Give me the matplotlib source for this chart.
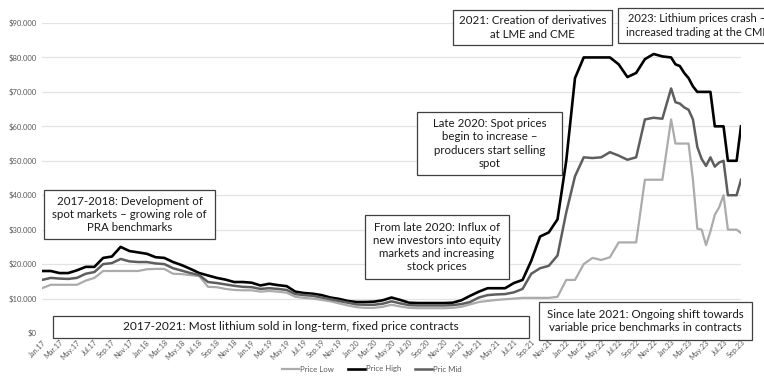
import matplotlib.pyplot as plt
import matplotlib.patches as patches
import numpy as np

plt.rcParams['font.family'] = ['Lato', 'DejaVu Sans']

# month offsets from Jan 2017 (monthly, then half-monthly during 2023)
month_pos = np.concatenate([np.arange(0, 72), np.arange(72, 80.5, 0.5)])

price_high = [
    18, 18, 17.4, 17.4, 18.2, 19.2, 19.2, 21.8, 22.2, 25, 23.8, 23.4,
    23, 22, 21.8, 20.6, 19.7, 18.6, 17.4, 16.7, 16, 15.5, 14.8, 14.8,
    14.6, 13.8, 14.3, 13.9, 13.6, 12, 11.6, 11.4, 11, 10.3, 9.9, 9.3,
    9, 9, 9.1, 9.5, 10.3, 9.6, 8.8, 8.7, 8.7, 8.7, 8.7, 8.8,
    9.5, 10.8, 12, 13, 13, 13, 14.5, 15.4, 21, 28, 29.2, 33,
    50, 74, 80, 80, 80, 80, 78, 74.3, 75.5, 79.5, 81, 80.3,
    80, 78, 77.5, 75.5, 74, 71.6, 70, 70, 70, 70, 60, 60, 60, 50, 50, 50, 60,
]
price_mid = [
    15.4, 16, 15.8, 15.7, 16, 17.2, 17.7, 20, 20.3, 21.5, 20.8, 20.6,
    20.6, 20.2, 20, 18.8, 18.1, 17.4, 16.8, 14.8, 14.5, 14.1, 13.7, 13.4,
    13.3, 12.8, 13, 12.8, 12.5, 11.3, 11, 10.8, 10.3, 9.8, 9.3, 8.8,
    8.3, 8.2, 8.2, 8.5, 9.2, 8.6, 8.1, 8, 8, 8, 8, 8.1,
    8.4, 9, 10.3, 11, 11.2, 11.3, 11.8, 12.8, 17.2, 18.8, 19.5, 22.5,
    35, 45.5, 51, 50.8, 51, 52.5, 51.5, 50.3, 51, 62, 62.5, 62.2,
    71, 67, 66.6, 65.5, 64.8, 62, 54, 50.5, 48.5, 51, 48.3, 49.5, 50, 40, 40, 40, 44.5,
]
price_low = [
    13, 14, 14, 14, 14, 15.2, 16, 18, 18, 18, 18, 18,
    18.5, 18.6, 18.6, 17.2, 17.1, 16.8, 16.5, 13.4, 13.3, 12.8, 12.5, 12.4,
    12.4, 12, 12.2, 12, 11.7, 10.5, 10.2, 10, 9.6, 9.2, 8.6, 8,
    7.5, 7.3, 7.3, 7.6, 8.2, 7.7, 7.3, 7.2, 7.2, 7.2, 7.2, 7.3,
    7.6, 8.3, 9, 9.3, 9.6, 9.8, 10, 10.2, 10.2, 10.2, 10.2, 10.5,
    15.4, 15.4, 20, 21.8, 21.2, 22, 26.3, 26.3, 26.3, 44.5, 44.5, 44.5,
    62, 55, 55, 55, 55, 44.5, 30.3, 30, 25.5, 29.5, 34.3, 36.5, 40, 30, 30, 30, 29,
]

tick_labels = [
    'Jan.17', 'Mar.17', 'May.17', 'Jul.17', 'Sep.17', 'Nov.17',
    'Jan.18', 'Mar.18', 'May.18', 'Jul.18', 'Sep.18', 'Nov.18',
    'Jan.19', 'Mar.19', 'May.19', 'Jul.19', 'Sep.19', 'Nov.19',
    'Jan.20', 'Mar.20', 'May.20', 'Jul.20', 'Sep.20', 'Nov.20',
    'Jan.21', 'Mar.21', 'May.21', 'Jul.21', 'Sep.21', 'Nov.21',
    'Jan.22', 'Mar.22', 'May.22', 'Jul.22', 'Sep.22', 'Nov.22',
    'Jan.23', 'Mar.23', 'May.23', 'Jul.23', 'Sep.23',
]

# annotation boxes: left, top, right, bottom (pixels), text, font size
notes = [
    (44, 190, 215, 239, '2017-2018: Development of\nspot markets \u2013 growing role of\nPRA benchmarks', 8.3),
    (53, 316, 529, 338, '2017-2021: Most lithium sold in long-term, fixed price contracts', 8.6),
    (365, 215, 509, 279, 'From late 2020: Influx of\nnew investors into equity\nmarkets and increasing\nstock prices', 8.3),
    (417, 112, 562, 175, 'Late 2020: Spot prices\nbegin to increase \u2013\nproducers start selling\nspot', 8.3),
    (453, 10, 612, 45, '2021: Creation of derivatives\nat LME and CME', 8.3),
    (618, 8, 800, 43, '2023: Lithium prices crash \u2013\nincreased trading at the CME', 8.0),
    (539, 302, 752, 340, 'Since late 2021: Ongoing shift towards\nvariable price benchmarks in contracts', 8.3),
]

W, H = 764, 378
fig = plt.figure(figsize=(7.64, 3.78), dpi=100)
ax = fig.add_axes([42 / W, 1 - 333 / H, (741 - 42) / W, (333 - 23) / H])

ax.plot(month_pos, price_low, color='#ababab', lw=1.6, label='Price Low')
ax.plot(month_pos, price_high, color='#000000', lw=1.9, label='Price High')
ax.plot(month_pos, price_mid, color='#5e5e5e', lw=1.8, label='Pric Mid')

ax.set_xlim(0, 80)
ax.set_ylim(0, 90)
yt = np.arange(0, 91, 10)
ax.set_yticks(yt)
ax.set_yticklabels(['$0'] + [f'${v}.000' for v in yt[1:]], fontsize=5.5, color='#595959')
ax.set_xticks(np.arange(0, 81, 2))
ax.set_xticklabels(tick_labels, rotation=45, ha='right', rotation_mode='anchor',
                   fontsize=5.2, color='#595959')
ax.tick_params(length=0, pad=4)
ax.grid(axis='y', color='#e3e3e3', lw=0.9)
ax.set_axisbelow(True)
for s in ax.spines.values():
    s.set_visible(False)

ax.legend(loc='center', bbox_to_anchor=(372 / W, 9 / H), bbox_transform=fig.transFigure,
          ncol=3, frameon=False, fontsize=5.6, handlelength=2.2, columnspacing=1.8,
          handletextpad=0.1, labelcolor='#595959')

for x0, y0, x1, y1, txt, fs in notes:
    rect = patches.Rectangle((x0 / W, 1 - y1 / H), (x1 - x0) / W, (y1 - y0) / H,
                             transform=fig.transFigure, facecolor='white',
                             edgecolor='#3f3f3f', lw=0.9, zorder=5)
    fig.patches.append(rect)
    # the last box runs past the right edge, as in the source image
    cx = (x0 + x1) / 2 if x1 < W else 697
    fig.text(cx / W, 1 - (y0 + y1) / 2 / H, txt, ha='center', va='center',
             fontsize=fs, linespacing=1.25, color='#1a1a1a', zorder=6)

fig.savefig('out.png', dpi=100)
